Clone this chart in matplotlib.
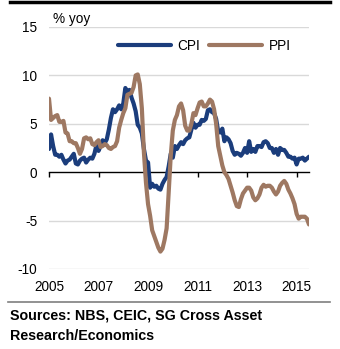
import numpy as np
import matplotlib
matplotlib.use("Agg")
import matplotlib.pyplot as plt
from matplotlib.lines import Line2D

plt.rcParams['font.family'] = ['Liberation Sans', 'DejaVu Sans']

start_year = 2005
cpi = [2.4, 3.9, 2.7, 1.8, 1.8, 1.6, 1.8, 1.3, 0.9, 1.2, 1.3, 1.6,
       1.9, 0.9, 0.8, 1.2, 1.4, 1.5, 1.0, 1.3, 1.5, 1.4, 1.9, 2.8,
       2.2, 2.7, 3.3, 3.0, 3.4, 4.4, 5.6, 6.5, 6.2, 6.5, 6.9, 6.5,
       7.1, 8.7, 8.3, 8.5, 7.7, 7.1, 6.3, 4.9, 4.6, 4.0, 2.4, 1.2,
       1.0, -1.6, -1.2, -1.5, -1.4, -1.7, -1.8, -1.2, -0.8, -0.5, 0.6, 1.9,
       1.5, 2.7, 2.4, 2.8, 3.1, 2.9, 3.3, 3.5, 3.6, 4.4, 5.1, 4.6,
       4.9, 4.9, 5.4, 5.3, 5.5, 6.4, 6.5, 6.2, 6.1, 5.5, 4.2, 4.1,
       4.5, 3.2, 3.6, 3.4, 3.0, 2.2, 1.8, 2.0, 1.9, 1.7, 2.0, 2.5,
       2.0, 3.2, 2.1, 2.4, 2.1, 2.7, 2.7, 2.6, 3.1, 3.2, 3.0, 2.5,
       2.5, 2.0, 2.4, 1.8, 2.5, 2.3, 2.3, 2.0, 1.6, 1.6, 1.4, 1.5,
       0.8, 1.4, 1.4, 1.5, 1.2, 1.4, 1.6]
ppi = [7.6, 5.4, 5.6, 5.8, 5.9, 5.2, 5.2, 5.3, 4.1, 4.0, 3.2, 3.2,
       3.0, 3.0, 2.5, 1.9, 2.4, 3.5, 3.6, 3.4, 3.5, 2.9, 2.8, 3.1,
       3.3, 2.6, 2.7, 2.9, 2.8, 2.5, 2.4, 2.6, 2.7, 3.2, 4.6, 5.4,
       6.1, 6.6, 8.0, 8.1, 8.2, 8.8, 10.0, 10.1, 9.1, 6.6, 2.0, -1.1,
       -3.3, -4.5, -6.0, -6.6, -7.2, -7.8, -8.2, -7.9, -7.0, -5.8, -2.1, 1.7,
       4.3, 5.4, 5.9, 6.8, 7.1, 6.4, 4.8, 4.3, 4.3, 5.0, 6.1, 5.9,
       6.6, 7.2, 7.3, 6.8, 6.8, 7.1, 7.5, 7.3, 6.5, 5.0, 2.7, 1.7,
       0.7, 0.0, -0.3, -0.7, -1.4, -2.1, -2.9, -3.5, -3.6, -2.8, -2.2, -1.9,
       -1.6, -1.6, -1.9, -2.6, -2.9, -2.7, -2.3, -1.6, -1.3, -1.5, -1.4, -1.4,
       -1.6, -2.0, -2.3, -2.0, -1.4, -1.1, -0.9, -1.2, -1.8, -2.2, -2.7, -3.3,
       -4.3, -4.8, -4.6, -4.6, -4.6, -4.8, -5.4]
year_ticks = [2005, 2007, 2009, 2011, 2013, 2015]
y_ticks = [-10, -5, 0, 5, 10, 15]

x = start_year + np.arange(len(cpi)) / 12.0

W, H = 340, 349
fig = plt.figure(figsize=(W / 100, H / 100), dpi=100)
ax = fig.add_axes([49 / W, (H - 269) / H, 260 / W, 242 / H])

CPI_C = '#1B3D7C'
PPI_C = '#9E7862'

for yv in y_ticks:
    if yv != 0:
        ax.axhline(yv, color='#D9D9D9', lw=1.0, zorder=0)

ax.plot(x, cpi, color=CPI_C, lw=3.0, label='CPI', zorder=3,
        solid_joinstyle='round', solid_capstyle='round')
ax.plot(x, ppi, color=PPI_C, lw=3.0, label='PPI', zorder=4,
        solid_joinstyle='round', solid_capstyle='round')

ax.set_xlim(x[0], x[-1])
ax.set_ylim(-10, 15)
ax.set_yticks(y_ticks)
ax.set_yticklabels([str(v) for v in y_ticks])
ax.tick_params(axis='y', length=0, pad=8.5, labelsize=9.8)

for s in ['top', 'right', 'left']:
    ax.spines[s].set_visible(False)
ax.spines['bottom'].set_position(('data', 0))
ax.spines['bottom'].set_color('black')
ax.spines['bottom'].set_linewidth(1.0)
ax.spines['bottom'].set_zorder(2)
ax.set_xticks(year_ticks)
ax.tick_params(axis='x', direction='out', length=3.5, width=1, labelbottom=False)

sec = ax.secondary_xaxis('bottom')
sec.set_xticks(year_ticks)
sec.set_xticklabels([str(v) for v in year_ticks])
sec.tick_params(length=0, pad=8, labelsize=9.8)
sec.spines['bottom'].set_visible(False)

ax.text(0.015, 1.005, '% yoy', transform=ax.transAxes, fontsize=9.8,
        ha='left', va='bottom')

ax.legend(loc='center left', bbox_to_anchor=(0.265, 0.921), ncol=2,
          frameon=False, fontsize=9.8, handlelength=3.9, handletextpad=0.45,
          columnspacing=0.7, borderpad=0, borderaxespad=0)

fig.add_artist(Line2D([10 / W, 330 / W], [1 - 1.5 / H, 1 - 1.5 / H],
                      color='black', lw=2.5, transform=fig.transFigure))
fig.add_artist(Line2D([8 / W, 330 / W], [(H - 302) / H, (H - 302) / H],
                      color='#7F7F7F', lw=1.2, transform=fig.transFigure))

fig.text(10 / W, (H - 316) / H, 'Sources: NBS, CEIC, SG Cross Asset',
         fontsize=10.3, fontweight='bold', ha='left', va='center')
fig.text(10 / W, (H - 336) / H, 'Research/Economics',
         fontsize=10.3, fontweight='bold', ha='left', va='center')

fig.savefig('out.png', dpi=100)
